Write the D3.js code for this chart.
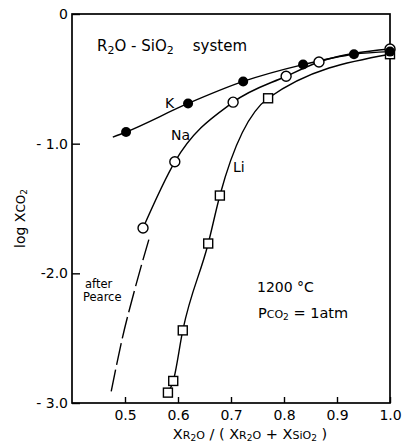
<!DOCTYPE html>
<html>
<head>
<meta charset="utf-8">
<script src="https://cdn.jsdelivr.net/npm/d3@7"></script>
<style>
  body { margin: 0; background: #fff; }
  text { font-family: "DejaVu Sans", sans-serif; fill: #000; }
</style>
</head>
<body>
<div id="chart"></div>
<script>
(function(d3) {
    'use strict'

    // values
    var kX = [0.502, 0.619, 0.723, 0.836, 0.932, 1.0];
    var kY = [-0.91, -0.69, -0.52, -0.39, -0.31, -0.29];
    var naX = [0.534, 0.594, 0.704, 0.804, 0.866, 1.0];
    var naY = [-1.65, -1.14, -0.68, -0.48, -0.37, -0.27];
    var liX = [0.581, 0.591, 0.609, 0.657, 0.679, 0.770, 1.0];
    var liY = [-2.92, -2.83, -2.44, -1.77, -1.40, -0.65, -0.31];
    // K line starts a little left of its first point
    var kLineX = [0.477, 0.502, 0.619, 0.723, 0.836, 0.932, 1.0];
    var kLineY = [-0.95, -0.91, -0.69, -0.52, -0.39, -0.31, -0.29];
    var pearceX = [0.474, 0.495, 0.52, 0.545];
    var pearceY = [-2.91, -2.5, -2.1, -1.74];
    var xTicks = [0.5, 0.6, 0.7, 0.8, 0.9, 1.0];
    var yTicks = [0, -1, -2, -3];
    var yTickLabels = ['0', '- 1.0', '-2.0', '- 3.0'];

    var width = 413;
    var height = 443;
    var left = 72, right = 390, top = 14, bottom = 403;

    var svg = d3.select('#chart')
        .append('svg')
        .attr('width', width)
        .attr('height', height);

    var x = d3.scaleLinear().domain([0.4, 1.0]).range([left, right]);
    var y = d3.scaleLinear().domain([-3, 0]).range([bottom, top]);

    function zip(xs, ys) {
        return xs.map(function(v, i) { return [v, ys[i]]; });
    }

    // frame
    svg.append('rect')
        .attr('x', left).attr('y', top)
        .attr('width', right - left).attr('height', bottom - top)
        .attr('fill', 'none').attr('stroke', '#000').attr('stroke-width', 1.7);

    // x axis, ticks pointing inward
    var xAxis = d3.axisBottom(x)
        .tickValues(xTicks)
        .tickSizeInner(-6)
        .tickSizeOuter(0)
        .tickPadding(7)
        .tickFormat(d3.format('.1f'));
    var gx = svg.append('g')
        .attr('transform', 'translate(0,' + bottom + ')')
        .call(xAxis);
    gx.select('.domain').remove();
    gx.selectAll('line').attr('stroke-width', 1.4);
    gx.selectAll('text').attr('font-size', 14).attr('font-family', '"DejaVu Sans", sans-serif');

    var yAxis = d3.axisLeft(y)
        .tickValues(yTicks)
        .tickSizeInner(-8)
        .tickSizeOuter(0)
        .tickPadding(4)
        .tickFormat(function(d, i) { return yTickLabels[i]; });
    var gy = svg.append('g')
        .attr('transform', 'translate(' + left + ',0)')
        .call(yAxis);
    gy.select('.domain').remove();
    gy.selectAll('line').attr('stroke-width', 1.4);
    gy.selectAll('text').attr('font-size', 14).attr('font-family', '"DejaVu Sans", sans-serif');

    var line = d3.line()
        .x(function(d) { return x(d[0]); })
        .y(function(d) { return y(d[1]); })
        .curve(d3.curveMonotoneX);

    svg.append('path').attr('d', line(zip(kLineX, kLineY)))
        .attr('fill', 'none').attr('stroke', '#000').attr('stroke-width', 1.4);
    svg.append('path').attr('d', line(zip(naX, naY)))
        .attr('fill', 'none').attr('stroke', '#000').attr('stroke-width', 1.4);
    svg.append('path').attr('d', line(zip(liX, liY)))
        .attr('fill', 'none').attr('stroke', '#000').attr('stroke-width', 1.4);
    svg.append('path').attr('d', line(zip(pearceX, pearceY)))
        .attr('fill', 'none').attr('stroke', '#000').attr('stroke-width', 1.4)
        .attr('stroke-dasharray', '22,5');

    // markers
    svg.selectAll('.li')
        .data(zip(liX, liY))
        .enter()
        .append('rect')
        .attr('x', function(d) { return x(d[0]) - 4.5; })
        .attr('y', function(d) { return y(d[1]) - 4.5; })
        .attr('width', 9).attr('height', 9)
        .attr('fill', '#fff').attr('stroke', '#000').attr('stroke-width', 1.4);

    svg.selectAll('.na')
        .data(zip(naX, naY))
        .enter()
        .append('circle')
        .attr('cx', function(d) { return x(d[0]); })
        .attr('cy', function(d) { return y(d[1]); })
        .attr('r', 5)
        .attr('fill', '#fff').attr('stroke', '#000').attr('stroke-width', 1.4);

    svg.selectAll('.k')
        .data(zip(kX, kY))
        .enter()
        .append('circle')
        .attr('cx', function(d) { return x(d[0]); })
        .attr('cy', function(d) { return y(d[1]); })
        .attr('r', 5)
        .attr('fill', '#000');

    // texts
    var title = svg.append('text').attr('x', 97).attr('y', 51).attr('font-size', 15)
        .attr('xml:space', 'preserve');
    title.append('tspan').text('R');
    title.append('tspan').text('2').attr('font-size', 11).attr('dy', 3);
    title.append('tspan').text('O - SiO').attr('dy', -3);
    title.append('tspan').text('2').attr('font-size', 11).attr('dy', 3);
    title.append('tspan').text('\u00a0\u00a0\u00a0 system').attr('dy', -3);

    svg.append('text').attr('x', 165).attr('y', 108).attr('font-size', 14).text('K');
    svg.append('text').attr('x', 171).attr('y', 140).attr('font-size', 14).text('Na');
    svg.append('text').attr('x', 233).attr('y', 172).attr('font-size', 14).text('Li');

    svg.append('text').attr('x', 85).attr('y', 288).attr('font-size', 11.5).text('after');
    svg.append('text').attr('x', 83).attr('y', 301).attr('font-size', 11.5).text('Pearce');

    svg.append('text').attr('x', 257).attr('y', 292).attr('font-size', 14).text('1200 °C');
    var p = svg.append('text').attr('x', 258).attr('y', 318).attr('font-size', 14.5);
    p.append('tspan').text('P');
    p.append('tspan').text('CO').attr('font-size', 11);
    p.append('tspan').text('2').attr('font-size', 9).attr('dy', 2);
    p.append('tspan').text(' = 1atm').attr('dy', -2);

    var yl = svg.append('text')
        .attr('transform', 'translate(25,248) rotate(-90)')
        .attr('font-size', 14);
    yl.append('tspan').text('log X');
    yl.append('tspan').text('CO').attr('font-size', 12);
    yl.append('tspan').text('2').attr('font-size', 9).attr('dy', 2);

    var xl = svg.append('text')
        .attr('x', 250).attr('y', 439)
        .attr('text-anchor', 'middle')
        .attr('font-size', 14.5);
    xl.append('tspan').text('X');
    xl.append('tspan').text('R').attr('font-size', 11);
    xl.append('tspan').text('2').attr('font-size', 9).attr('dy', 2);
    xl.append('tspan').text('O').attr('font-size', 11).attr('dy', -2);
    xl.append('tspan').text(' / ( X');
    xl.append('tspan').text('R').attr('font-size', 11);
    xl.append('tspan').text('2').attr('font-size', 9).attr('dy', 2);
    xl.append('tspan').text('O').attr('font-size', 11).attr('dy', -2);
    xl.append('tspan').text(' + X');
    xl.append('tspan').text('SiO').attr('font-size', 11);
    xl.append('tspan').text('2').attr('font-size', 9).attr('dy', 2);
    xl.append('tspan').text(' )').attr('dy', -2);

})(window.d3);
</script>
</body>
</html>
